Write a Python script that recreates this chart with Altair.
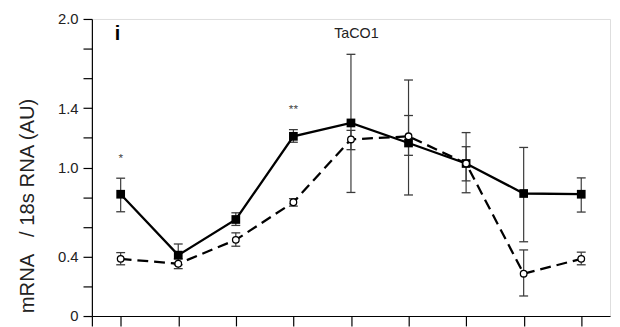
import altair as alt
import pandas as pd

# ---- data ----
X_POS = [1, 2, 3, 4, 5, 6, 7, 8, 9]
SOLID = [0.82, 0.41, 0.65, 1.21, 1.30, 1.165, 1.027, 0.825, 0.82]
SOLID_LO = [0.702, 0.345, 0.61, 1.17, 0.832, 1.082, 0.83, 0.50, 0.70]
SOLID_HI = [0.928, 0.485, 0.695, 1.255, 1.762, 1.35, 1.235, 1.135, 0.93]
OPEN = [0.385, 0.352, 0.513, 0.766, 1.189, 1.21, 1.027, 0.285, 0.385]
OPEN_LO = [0.345, 0.319, 0.47, 0.74, 1.12, 0.815, 0.91, 0.135, 0.345]
OPEN_HI = [0.427, 0.385, 0.56, 0.79, 1.25, 1.589, 1.14, 0.445, 0.43]

STAR_X = [1, 4]
STAR_Y = [1.082, 1.414]
STAR_TEXT = ["*", "**"]

Y_TICKS = [0, 0.2, 0.4, 0.6, 0.8, 1.0, 1.2, 1.4, 1.6, 1.8, 2.0]
Y_LABELS = [0, 0.4, 1.0, 1.4, 2.0]
X_TICKS = [0.5, 1, 2, 3, 4, 5, 6, 7, 8, 9]

Y_TITLE = "mRNA\u00a0\u00a0\u00a0/ 18s RNA (AU)"
PANEL = "i"
GENE = "TaCO1"

df = pd.DataFrame({
    "x": X_POS,
    "solid": SOLID, "solid_lo": SOLID_LO, "solid_hi": SOLID_HI,
    "open": OPEN, "open_lo": OPEN_LO, "open_hi": OPEN_HI,
})
stars = pd.DataFrame({"x": STAR_X, "y": STAR_Y, "t": STAR_TEXT})

FONT = "Liberation Sans"

label_cond = " || ".join(f"abs(datum.value - {v}) < 0.001" for v in Y_LABELS)
label_expr = f"({label_cond}) ? (datum.value == 0 ? '0' : format(datum.value, '.1f')) : ''"

x_scale = alt.Scale(domain=[0.5, 9.5], nice=False, zero=False)
y_scale = alt.Scale(domain=[0, 2.0], nice=False, zero=False)

x_axis = alt.Axis(values=X_TICKS, labels=False, title=None, tickSize=10,
                  domainColor="black", tickColor="black", grid=False,
                  domainWidth=1.2, tickWidth=1.2)
y_axis = alt.Axis(values=Y_TICKS, labelExpr=label_expr, labelOverlap=False,
                  tickSize=9, labelFontSize=15, labelFont=FONT, labelColor="#222",
                  labelPadding=5, grid=False, domainColor="black", tickColor="black",
                  domainWidth=1.2, tickWidth=1.2,
                  title=Y_TITLE, titleFont=FONT, titleFontSize=20.5,
                  titleFontWeight="normal", titleColor="#222", titleAngle=270,
                  titleX=-65, titleY=189, titleAlign="center", titleBaseline="middle")


def X(field="x"):
    return alt.X(f"{field}:Q", scale=x_scale, axis=x_axis)


def Y(field):
    return alt.Y(f"{field}:Q", scale=y_scale, axis=y_axis)


base = alt.Chart(df)
EB = "#3a3a3a"

layers = []
for s in ["solid", "open"]:
    layers.append(base.mark_rule(color=EB, strokeWidth=1.2).encode(
        x=X(), y=Y(f"{s}_lo"), y2=alt.Y2(f"{s}_hi")))
    for end in ["lo", "hi"]:
        layers.append(base.mark_rule(color=EB, strokeWidth=1.3, xOffset=-4.5, x2Offset=4.5).encode(
            x=X(), x2=alt.X2("x"), y=Y(f"{s}_{end}")))

solid_line = base.mark_line(color="black", strokeWidth=2.3).encode(x=X(), y=Y("solid"))
open_line = base.mark_line(color="black", strokeWidth=2.3, strokeDash=[11, 6]).encode(x=X(), y=Y("open"))
solid_pts = base.mark_point(shape="square", filled=True, color="black", size=78, opacity=1).encode(
    x=X(), y=Y("solid"))
open_pts = base.mark_point(shape="circle", filled=True, fill="white", stroke="black",
                           strokeWidth=1.3, size=45, opacity=1).encode(x=X(), y=Y("open"))

star_text = alt.Chart(stars).mark_text(font=FONT, fontSize=12, color="#444", dy=3).encode(
    x=X(), y=Y("y"), text="t:N")

panel = alt.Chart(pd.DataFrame({"t": [PANEL]})).mark_text(
    font=FONT, fontSize=20, fontWeight="bold", color="black", baseline="middle").encode(
    x=alt.value(26), y=alt.value(15), text="t:N")
gene = alt.Chart(pd.DataFrame({"t": [GENE]})).mark_text(
    font=FONT, fontSize=14.5, color="#222", baseline="middle").encode(
    x=alt.value(268), y=alt.value(15), text="t:N")

chart = alt.layer(*layers, solid_line, open_line, solid_pts, open_pts, star_text, panel, gene).properties(
    width=525, height=301,
    autosize=alt.AutoSizeParams(type="none"),
    padding={"left": 85, "top": 9, "right": 2, "bottom": 9},
).configure_view(stroke=None).configure(background="white")

chart.save("out.html", embed_options={"renderer": "svg", "actions": False})
